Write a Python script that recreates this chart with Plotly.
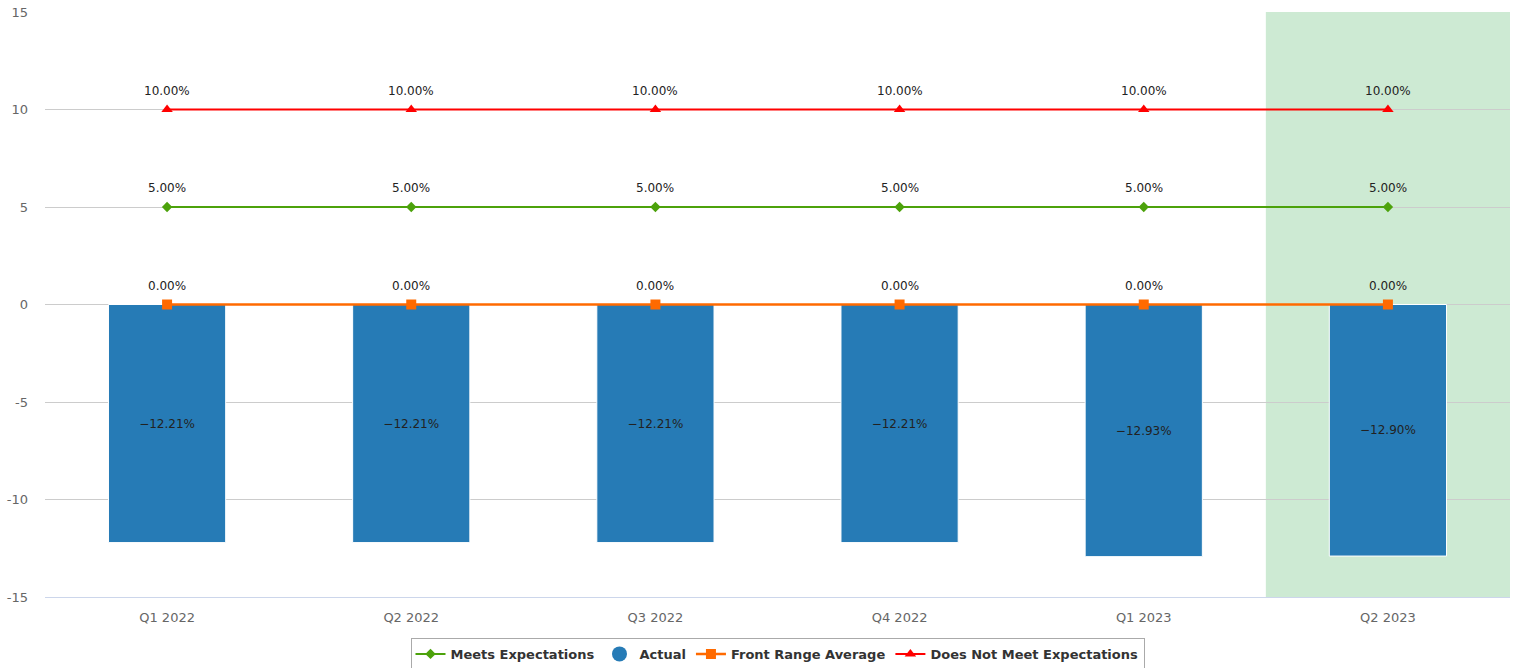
import plotly.graph_objects as go

quarters = ["Q1 2022", "Q2 2022", "Q3 2022", "Q4 2022", "Q1 2023", "Q2 2023"]
meets_expectations = [5.00, 5.00, 5.00, 5.00, 5.00, 5.00]
actual = [-12.21, -12.21, -12.21, -12.21, -12.93, -12.90]
front_range_average = [0.00, 0.00, 0.00, 0.00, 0.00, 0.00]
does_not_meet = [10.00, 10.00, 10.00, 10.00, 10.00, 10.00]
y_ticks = [-15, -10, -5, 0, 5, 10, 15]
highlight_quarter = "Q2 2023"

label_font = dict(family="DejaVu Sans", size=12, color="#222222")

GREEN = "#4ca20b"
BLUE = "#267bb6"
ORANGE = "#ff6a00"
RED = "#ff0000"


def pct(v):
    return f"{v:.2f}%".replace("-", "\u2212")


fig = go.Figure()

# bars (legend entry supplied by a circle proxy below)
fig.add_trace(go.Bar(
    x=quarters, y=actual, name="Actual", legendgroup="actual", showlegend=False,
    text=[pct(v) for v in actual], textposition="inside", insidetextanchor="middle",
    textfont=label_font, textangle=0, cliponaxis=False,
    marker=dict(color=BLUE, line=dict(color="#ffffff", width=1)),
    width=0.48,
))

line_series = [
    ("Meets Expectations", meets_expectations, GREEN, "diamond", 8, 2, 1),
    ("Front Range Average", front_range_average, ORANGE, "square", 10, 2.5, 3),
    ("Does Not Meet Expectations", does_not_meet, RED, "triangle-up", 10, 2, 4),
]
for name, values, color, symbol, msize, lwidth, rank in line_series:
    fig.add_trace(go.Scatter(
        x=quarters, y=values, name=name, legendrank=rank,
        mode="lines+markers",
        line=dict(color=color, width=lwidth),
        marker=dict(symbol=symbol, size=msize, color=color),
    ))
    for q, v in zip(quarters, values):
        fig.add_annotation(
            x=q, y=v, text=pct(v), showarrow=False,
            yanchor="bottom", yshift=10, font=label_font,
        )

fig.add_trace(go.Scatter(
    x=[None], y=[None], name="Actual", legendgroup="actual", legendrank=2,
    mode="markers", marker=dict(symbol="circle", size=15, color=BLUE),
))

hi = quarters.index(highlight_quarter)
fig.add_shape(
    type="rect", xref="x", yref="paper",
    x0=hi - 0.5, x1=hi + 0.5, y0=0, y1=1,
    fillcolor="#cdead3", line=dict(width=0), layer="below",
)

fig.update_layout(
    width=1516, height=668,
    margin=dict(l=45, r=6, t=12, b=71, autoexpand=False),
    plot_bgcolor="#ffffff", paper_bgcolor="#ffffff",
    showlegend=True,
    bargap=0.52,
    legend=dict(
        orientation="h", x=0.5, xanchor="center", y=-0.07, yanchor="top",
        bordercolor="#aaaaaa", borderwidth=1,
        font=dict(family="DejaVu Sans", size=13, color="#333333", weight="bold"),
        itemwidth=30, tracegroupgap=0,
    ),
    font=dict(family="DejaVu Sans", size=12, color="#666666"),
)
fig.update_xaxes(
    showgrid=False, showline=True, linecolor="#ccd6eb", linewidth=1,
    ticks="", tickfont=dict(size=13, color="#666666"), automargin=False,
    ticklabelstandoff=8,
    range=[-0.5, len(quarters) - 0.5],
)
fig.update_yaxes(
    range=[-15, 15], tickvals=y_ticks, ticktext=[str(t) for t in y_ticks],
    showgrid=True, gridcolor="#cccccc",
    zeroline=False, showline=False, automargin=False,
    ticklabelstandoff=16,
    tickfont=dict(size=13, color="#666666"),
)

fig.write_html("out.html")
